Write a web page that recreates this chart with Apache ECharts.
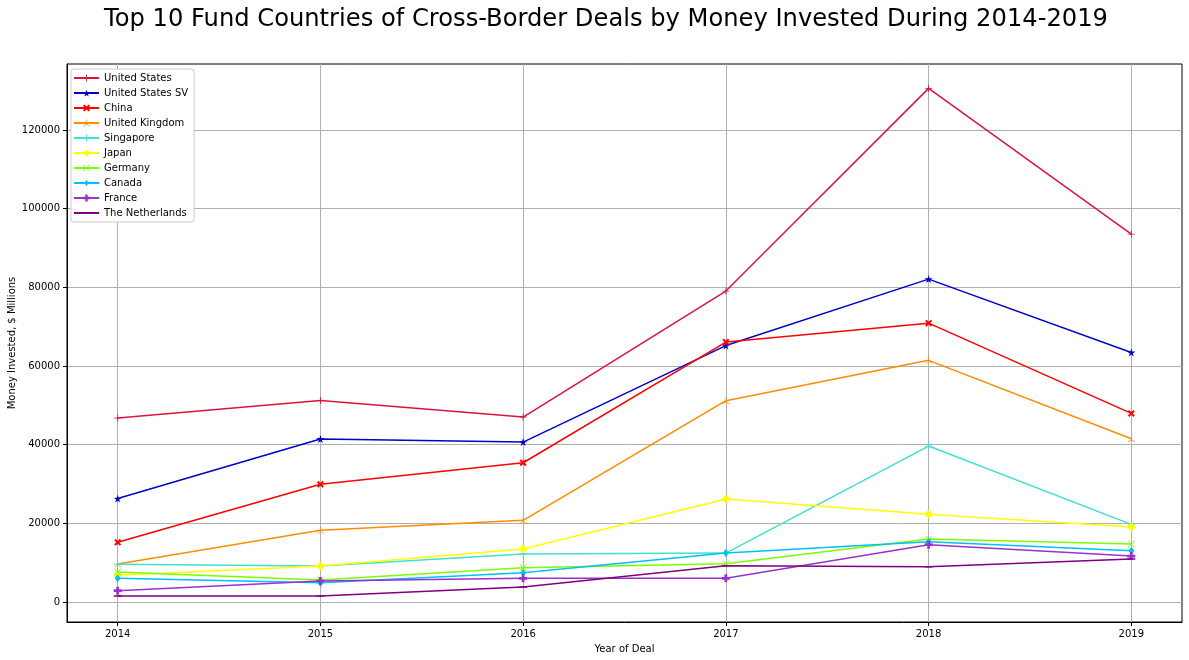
<!DOCTYPE html>
<html>
<head>
<meta charset="utf-8">
<script src="https://cdn.jsdelivr.net/npm/echarts@6/dist/echarts.min.js"></script>
<style>
html,body{margin:0;padding:0;background:#fff;}
#chart{width:1189px;height:660px;}
</style>
</head>
<body>
<div id="chart"></div>
<script>
const years = [2014, 2015, 2016, 2017, 2018, 2019];
const yTicks = [0, 20000, 40000, 60000, 80000, 100000, 120000];
const countries = ['United States', 'United States SV', 'China', 'United Kingdom', 'Singapore', 'Japan', 'Germany', 'Canada', 'France', 'The Netherlands'];

const unitedStates   = [46770, 51250, 47030, 79060, 130600, 93550];
const unitedStatesSV = [26300, 41430, 40670, 65200, 82100, 63450];
const china          = [15170, 29920, 35410, 66100, 70900, 47960];
const unitedKingdom  = [9660, 18220, 20760, 51180, 61450, 41520];
const singapore      = [9600, 9150, 12200, 12450, 39650, 19750];
const japan          = [6800, 9150, 13470, 26180, 22290, 19070];
const germany        = [7630, 5590, 8730, 9740, 16010, 14740];
const canada         = [6020, 4910, 7450, 12460, 15330, 13040];
const france         = [2870, 5340, 6020, 6020, 14570, 11690];
const netherlands    = [1525, 1525, 3810, 9230, 8970, 10930];

const seriesValues = [unitedStates, unitedStatesSV, china, unitedKingdom, singapore, japan, germany, canada, france, netherlands];
const colors = ['#DC143C', '#0000CD', '#FF0000', '#FF8C00', '#40E0D0', '#FFFF00', '#7CFC00', '#00BFFF', '#9932CC', '#800080'];

const SYM = {
  thinPlus: 'path://M4.4,0H5.6V4.4H10V5.6H5.6V10H4.4V5.6H0V4.4H4.4Z',
  star: 'path://M5,0L6.123,3.455L9.755,3.455L6.817,5.59L7.939,9.045L5,6.91L2.061,9.045L3.183,5.59L0.245,3.455L3.877,3.455Z',
  boldX: 'path://M0,2L2,0L5,3L8,0L10,2L7,5L10,8L8,10L5,7L2,10L0,8L3,5Z',
  triUp: 'path://M4.6,0H5.4V5H4.6ZM4.8,4.65L5.2,5.35L0.87,7.85L0.47,7.15ZM5.2,4.65L4.8,5.35L9.13,7.85L9.53,7.15Z',
  thinX: 'path://M0,0.8L0.8,0L5,4.2L9.2,0L10,0.8L5.8,5L10,9.2L9.2,10L5,5.8L0.8,10L0,9.2L4.2,5Z',
  boldPlus: 'path://M3.3,0H6.7V3.3H10V6.7H6.7V10H3.3V6.7H0V3.3H3.3Z',
  thinDiamond: 'path://M5,1L8,5L5,9L2,5ZM0,0L0.01,0L0.01,0.01ZM10,10L9.99,10L9.99,9.99Z',
  hline: 'path://M0,4.1H10V5.9H0ZM0,0L0.01,0L0.01,0.01ZM10,10L9.99,10L9.99,9.99Z'
};
const symbols = [SYM.thinPlus, SYM.star, SYM.boldX, SYM.triUp, SYM.thinPlus, 'diamond', SYM.thinX, SYM.thinDiamond, SYM.boldPlus, SYM.hline];
const symbolSizes = [7, 8, 7, 7, 7, 9, 7, 10, 8, 8];

const font = 'DejaVu Sans';

const series = countries.map((name, i) => ({
  name: name,
  type: 'line',
  data: years.map((y, j) => [y, seriesValues[i][j]]),
  symbol: symbols[i],
  symbolSize: symbolSizes[i],
  showAllSymbol: true,
  lineStyle: { color: colors[i], width: 1.5 },
  itemStyle: { color: colors[i], borderWidth: 0 },
  emphasis: { disabled: true },
  animation: false
}));

const chart = echarts.init(document.getElementById('chart'), null, { renderer: 'canvas' });
chart.setOption({
  animation: false,
  backgroundColor: '#fff',
  title: {
    text: 'Top 10 Fund Countries of Cross-Border Deals by Money Invested During 2014-2019',
    left: 104,
    top: 8,
    padding: 0,
    textStyle: { fontFamily: font, fontSize: 24.2, fontWeight: 'normal', color: '#000' }
  },
  legend: {
    orient: 'vertical',
    left: 71,
    top: 69,
    itemWidth: 25,
    itemHeight: 9,
    itemGap: 5,
    padding: [4, 6, 4, 2],
    backgroundColor: '#fff',
    borderColor: '#cccccc',
    borderWidth: 1,
    borderRadius: 3,
    textStyle: { fontFamily: font, fontSize: 10, color: '#000' },
    data: countries
  },
  grid: {
    left: 67, right: 7, top: 64, bottom: 38,
    outerBoundsMode: 'none',
    containLabel: false,
    show: true, borderColor: '#000', borderWidth: 1, backgroundColor: 'transparent'
  },
  xAxis: {
    type: 'value',
    min: 2013.75,
    max: 2019.25,
    name: 'Year of Deal',
    nameLocation: 'middle',
    nameGap: 22,
    nameMoveOverlap: false,
    nameTextStyle: { fontFamily: font, fontSize: 10, color: '#000' },
    axisLine: { show: true, onZero: false, lineStyle: { color: '#000', width: 1 } },
    axisTick: { show: true, length: 4, customValues: years, lineStyle: { color: '#000' } },
    axisLabel: { customValues: years, fontFamily: font, fontSize: 10, color: '#000', margin: 7, formatter: v => String(v) },
    splitLine: { show: true, lineStyle: { color: '#b0b0b0', width: 1 } }
  },
  yAxis: {
    type: 'value',
    min: -5085,
    max: 136800,
    name: 'Money Invested, $ Millions',
    nameLocation: 'middle',
    nameGap: 50,
    nameMoveOverlap: false,
    nameTextStyle: { fontFamily: font, fontSize: 10, color: '#000' },
    axisLine: { show: true, onZero: false, lineStyle: { color: '#000', width: 1 } },
    axisTick: { show: true, length: 4, customValues: yTicks, lineStyle: { color: '#000' } },
    axisLabel: { customValues: yTicks, fontFamily: font, fontSize: 10, color: '#000', margin: 7, formatter: v => String(v) },
    splitLine: { show: true, lineStyle: { color: '#b0b0b0', width: 1 } }
  },
  series: series
});
</script>
</body>
</html>
